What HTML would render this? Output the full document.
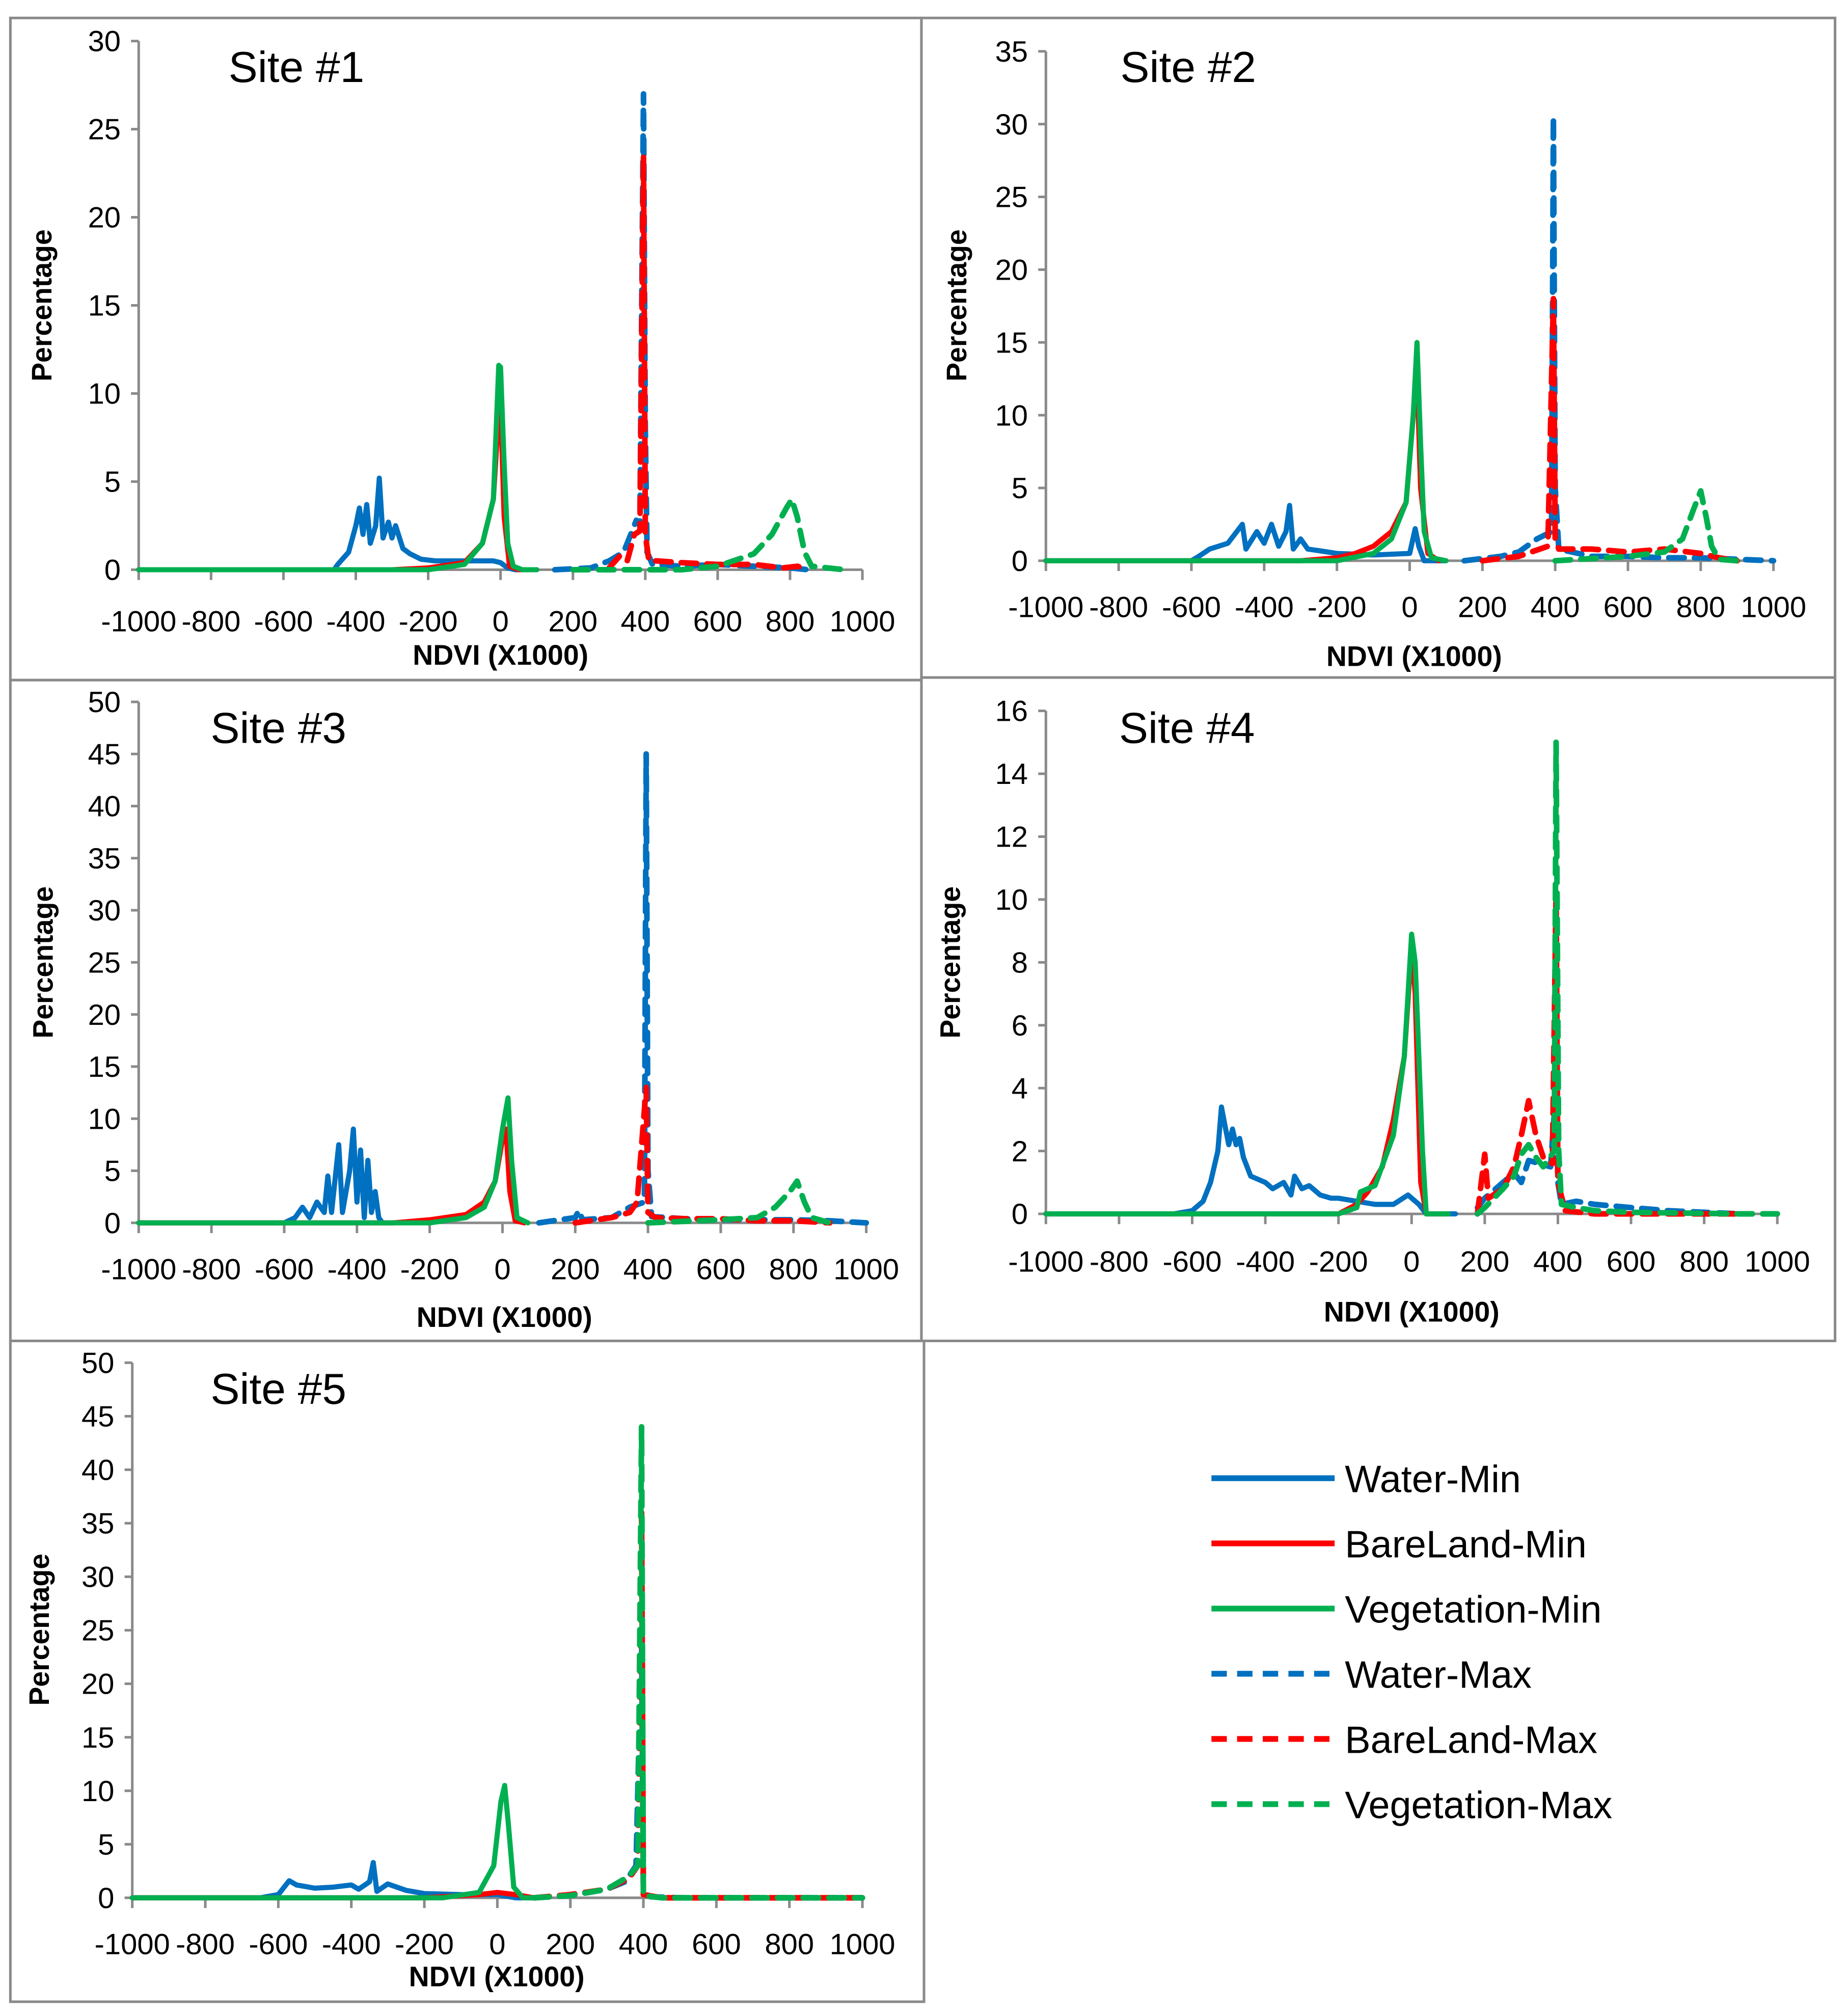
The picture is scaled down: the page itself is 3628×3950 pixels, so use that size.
<!DOCTYPE html>
<html><head><meta charset="utf-8">
<style>
html,body{margin:0;padding:0;background:#fff;}
svg{display:block;}
text{font-family:"Liberation Sans",sans-serif;}
</style></head>
<body>
<svg id="fig" width="3628" height="3950" viewBox="0 0 1440 1568" xmlns="http://www.w3.org/2000/svg">
<g id="frames" fill="none" stroke="#8a8a8a" stroke-width="2">
<rect x="8" y="14" width="710" height="516"/>
<rect x="718" y="14" width="712" height="514"/>
<rect x="8" y="530" width="710" height="515"/>
<rect x="718" y="528" width="712" height="517"/>
<rect x="8" y="1045" width="712" height="515"/>
</g>
<g id="legend"></g>
</svg>
<script>
const NS="http://www.w3.org/2000/svg";
const svg=document.getElementById('fig');
const seriesNames=["Water-Min","BareLand-Min","Vegetation-Min","Water-Max","BareLand-Max","Vegetation-Max"];
const seriesColors=["#0070c0","#ff0000","#00b050","#0070c0","#ff0000","#00b050"];
const seriesDashed=[false,false,false,true,true,true];
const xTicks=[-1000,-800,-600,-400,-200,0,200,400,600,800,1000];
const panelTitles=["Site #1","Site #2","Site #3","Site #4","Site #5"];
const yMaxes=[30,35,50,16,50];
const ySteps=[5,5,5,2,5];

// Site #1
const s1WaterMinX=[-1000,-460,-450,-420,-400,-390,-380,-370,-360,-345,-335,-325,-310,-300,-290,-270,-250,-220,-180,-100,-20,0,20,40,100];
const s1WaterMinY=[0,0,0.3,1,2.5,3.5,2,3.7,1.5,2.5,5.2,1.8,2.7,1.8,2.5,1.2,0.9,0.6,0.5,0.5,0.5,0.4,0.1,0,0];
const s1BareMinX=[-1000,-300,-200,-100,-50,-20,-5,0,10,25,50,100];
const s1BareMinY=[0,0,0.1,0.4,1.5,4,9,9.5,3,0.2,0,0];
const s1VegMinX=[-1000,-200,-100,-50,-20,-5,0,10,20,35,60,100];
const s1VegMinY=[0,0,0.3,1.5,4,11.6,11.5,6,1.5,0.2,0,0];
const s1WaterMaxX=[150,250,300,340,360,375,385,395,400,405,420,500,600,700,800,850];
const s1WaterMaxY=[0,0.1,0.5,1,2,2.8,2.5,27,8,1,0.3,0.2,0.3,0.2,0.1,0];
const s1BareMaxX=[300,330,350,370,385,395,400,410,430,500,600,700,780,820,850];
const s1BareMaxY=[0.1,0.8,0.5,2,2.2,23.5,2,0.5,0.5,0.4,0.3,0.3,0.1,0.2,0];
const s1VegMaxX=[200,400,500,600,700,750,790,805,820,840,860,950];
const s1VegMaxY=[0,0,0,0.2,0.9,2,3.5,4,3,1,0.2,0];

// Site #2
const s2WaterMinX=[-1000,-600,-580,-550,-500,-460,-450,-420,-400,-380,-360,-340,-330,-320,-300,-280,-250,-200,-100,0,15,25,40,100];
const s2WaterMinY=[0,0,0.3,0.8,1.2,2.5,0.8,2,1.2,2.5,1,2,3.8,0.8,1.5,0.8,0.7,0.5,0.4,0.5,2.2,1,0,0];
const s2BareMinX=[-1000,-300,-200,-150,-100,-50,-10,10,20,30,50,80];
const s2BareMinY=[0,0,0.2,0.5,1,2,4,10,13,5,0.5,0];
const s2VegMinX=[-1000,-200,-100,-50,-10,10,20,30,40,60,100];
const s2VegMinY=[0,0,0.5,1.5,4,10,15,8,2,0.2,0];
const s2WaterMaxX=[150,250,300,350,390,395,400,410,500,600,700,800,900,1000];
const s2WaterMaxY=[0,0.3,0.6,1.5,2,30.5,5,0.8,0.3,0.3,0.2,0.2,0.1,0];
const s2BareMaxX=[200,300,380,395,400,410,500,600,700,800,850,900];
const s2BareMaxY=[0,0.3,1,18,1.5,0.8,0.8,0.6,0.8,0.5,0.2,0];
const s2VegMaxX=[400,600,700,750,780,800,815,830,850,900];
const s2VegMaxY=[0,0.3,0.6,1.5,3.5,4.8,3,1,0.1,0];

// Site #3
const s3WaterMinX=[-1000,-600,-570,-550,-530,-510,-490,-480,-470,-450,-440,-420,-410,-400,-390,-380,-370,-360,-350,-340,-330];
const s3WaterMinY=[0,0,0.5,1.5,0.5,2,1,4.5,1,7.5,1,5,9,2,7,0.5,6,1,3,0.5,0];
const s3BareMinX=[-1000,-300,-200,-100,-50,-20,0,10,20,35,60];
const s3BareMinY=[0,0,0.3,0.8,2,4,8,9,3,0.2,0];
const s3VegMinX=[-1000,-200,-100,-50,-20,0,15,25,40,70];
const s3VegMinY=[0,0,0.5,1.5,4,9,12,6,0.5,0];
const s3WaterMaxX=[100,200,210,220,300,350,390,395,400,410,500,600,700,800,900,1000];
const s3WaterMaxY=[0,0.5,1.2,0.3,0.5,1.5,2,45,5,0.6,0.4,0.3,0.3,0.3,0.2,0];
const s3BareMaxX=[200,300,350,370,395,400,420,500,600,700,800,900];
const s3BareMaxY=[0,0.5,1,2,13,1,0.5,0.4,0.4,0.2,0.2,0];
const s3VegMaxX=[400,600,700,750,790,810,830,850,900];
const s3VegMaxY=[0,0.3,0.5,1.5,3,4,2,0.5,0];

// Site #4
const s4WaterMinX=[-1000,-650,-600,-570,-550,-530,-520,-510,-500,-490,-480,-470,-460,-440,-400,-380,-350,-330,-320,-300,-280,-250,-220,-200,-150,-100,-50,-10,20,40,120];
const s4WaterMinY=[0,0,0.1,0.4,1,2,3.4,2.8,2.2,2.7,2.2,2.4,1.8,1.2,1,0.8,1,0.6,1.2,0.8,0.9,0.6,0.5,0.5,0.4,0.3,0.3,0.6,0.3,0,0];
const s4BareMinX=[-1000,-200,-150,-120,-80,-50,-20,0,10,25,40,100];
const s4BareMinY=[0,0,0.3,0.7,1.5,3,5,8.5,7,1,0,0];
const s4VegMinX=[-1000,-200,-150,-140,-100,-50,-20,0,10,30,40,100];
const s4VegMinY=[0,0,0.2,0.7,0.9,2.5,5,8.9,8,2,0,0];
const s4WaterMaxX=[180,200,250,280,300,320,350,380,395,400,410,450,500,600,700,800,900];
const s4WaterMaxY=[0.2,0.5,1,1.3,1,1.7,1.6,1.5,4,1,0.3,0.4,0.3,0.2,0.1,0.05,0];
const s4BareMaxX=[180,200,210,250,280,300,320,340,360,385,395,400,420,500,900];
const s4BareMaxY=[0,1.9,0.5,0.8,1.5,2.5,3.6,2.5,1.8,1.6,10.2,1,0.1,0,0];
const s4VegMaxX=[180,200,250,280,300,320,340,360,390,395,402,410,450,500,600,900,1000];
const s4VegMaxY=[0,0.2,0.8,1.2,1.9,2.2,1.8,1.5,2,15,2,0.3,0.2,0.1,0.05,0,0];

// Site #5
const s5WaterMinX=[-1000,-650,-600,-570,-550,-500,-450,-400,-380,-350,-340,-330,-300,-250,-200,-100,0,50,100];
const s5WaterMinY=[0,0,0.3,1.6,1.2,0.9,1,1.2,0.8,1.5,3.3,0.6,1.3,0.7,0.4,0.3,0.3,0,0];
const s5BareMinX=[-1000,-200,-50,0,50,100];
const s5BareMinY=[0,0,0.3,0.5,0.3,0];
const s5VegMinX=[-1000,-150,-50,-10,10,20,30,45,70,100];
const s5VegMinY=[0,0,0.5,3,9,10.5,7,1,0,0];
const s5WaterMaxX=[100,200,300,350,380,395,400,420,500,1000];
const s5WaterMaxY=[0,0.2,0.8,1.5,3,25,0.5,0.1,0,0];
const s5BareMaxX=[100,200,300,360,385,395,400,450,1000];
const s5BareMaxY=[0,0.3,0.8,1.8,3,36,0.3,0,0];
const s5VegMaxX=[100,200,300,360,385,395,400,450,1000];
const s5VegMaxY=[0,0.2,0.8,2,3,44,0.2,0,0];

const panelData=[
 [[s1WaterMinX,s1WaterMinY],[s1BareMinX,s1BareMinY],[s1VegMinX,s1VegMinY],[s1WaterMaxX,s1WaterMaxY],[s1BareMaxX,s1BareMaxY],[s1VegMaxX,s1VegMaxY]],
 [[s2WaterMinX,s2WaterMinY],[s2BareMinX,s2BareMinY],[s2VegMinX,s2VegMinY],[s2WaterMaxX,s2WaterMaxY],[s2BareMaxX,s2BareMaxY],[s2VegMaxX,s2VegMaxY]],
 [[s3WaterMinX,s3WaterMinY],[s3BareMinX,s3BareMinY],[s3VegMinX,s3VegMinY],[s3WaterMaxX,s3WaterMaxY],[s3BareMaxX,s3BareMaxY],[s3VegMaxX,s3VegMaxY]],
 [[s4WaterMinX,s4WaterMinY],[s4BareMinX,s4BareMinY],[s4VegMinX,s4VegMinY],[s4WaterMaxX,s4WaterMaxY],[s4BareMaxX,s4BareMaxY],[s4VegMaxX,s4VegMaxY]],
 [[s5WaterMinX,s5WaterMinY],[s5BareMinX,s5BareMinY],[s5VegMinX,s5VegMinY],[s5WaterMaxX,s5WaterMaxY],[s5BareMaxX,s5BareMaxY],[s5VegMaxX,s5VegMaxY]]
];

const layout=[
 {x0:108,x1:672,yTop:32,yBot:444,tickY:483,titleX:178,titleY:52,pctX:32,pctY:238,ndviX:390,ndviY:510},
 {x0:815,x1:1382,yTop:40,yBot:437,tickY:472,titleX:873,titleY:52,pctX:745,pctY:238,ndviX:1102,ndviY:511},
 {x0:108,x1:675,yTop:547,yBot:953,tickY:988,titleX:164,titleY:567,pctX:33,pctY:750,ndviX:393,ndviY:1026},
 {x0:815,x1:1385,yTop:554,yBot:946,tickY:982,titleX:872,titleY:567,pctX:740,pctY:750,ndviX:1100,ndviY:1022},
 {x0:103,x1:672,yTop:1062,yBot:1479,tickY:1514,titleX:164,titleY:1082,pctX:30,pctY:1270,ndviX:387,ndviY:1540}
];

function mk(tag,attrs,parent){const e=document.createElementNS(NS,tag);for(const k in attrs)e.setAttribute(k,attrs[k]);parent.appendChild(e);return e;}

layout.forEach((L,pi)=>{
 const g=mk('g',{},svg);
 
 
 const ymax=yMaxes[pi], ystep=ySteps[pi];
 const sx=v=>L.x0+(v+1000)/2000*(L.x1-L.x0);
 const sy=v=>L.yBot-v/ymax*(L.yBot-L.yTop);
 const ya=mk('line',{x1:L.x0,y1:L.yTop,x2:L.x0,y2:L.yBot,stroke:'#8a8a8a','stroke-width':2},g);
 
 
 const xa=mk('line',{x1:L.x0,y1:L.yBot,x2:L.x1,y2:L.yBot,stroke:'#8a8a8a','stroke-width':2},g);
 
 
 for(let v=0;v<=ymax+1e-9;v+=ystep){
  const y=sy(v);
  mk('line',{x1:L.x0-6,y1:y,x2:L.x0,y2:y,stroke:'#8a8a8a','stroke-width':2},g);
  const t=mk('text',{x:L.x0-14,y:y+8,'text-anchor':'end','font-size':23,fill:'#000'},g);
  t.textContent=String(v);
  
  
 }
 xTicks.forEach(v=>{
  const x=sx(v);
  mk('line',{x1:x,y1:L.yBot,x2:x,y2:L.yBot+8,stroke:'#8a8a8a','stroke-width':2},g);
  const t=mk('text',{x:x,y:L.tickY+9,'text-anchor':'middle','font-size':23,fill:'#000'},g);
  t.textContent=String(v);
  
  
 });
 panelData[pi].forEach((d,si)=>{
  const xs=d[0], ys=d[1];
  const pts=xs.map((x,i)=>sx(x).toFixed(1)+','+sy(ys[i]).toFixed(1)).join(' ');
  const attrs={points:pts,fill:'none',stroke:seriesColors[si],'stroke-width':seriesDashed[si]?4.4:4,'stroke-linejoin':'round','stroke-linecap':'round'};
  if(seriesDashed[si])attrs['stroke-dasharray']='12 8';
  const p=mk('polyline',attrs,g);
  
  
 });
 const tt=mk('text',{x:L.titleX,y:L.titleY+12,'font-size':34,fill:'#000'},g);
 tt.textContent=panelTitles[pi];
 
 
 const pt=mk('text',{x:L.pctX,y:L.pctY,'font-size':22,'font-weight':'bold','text-anchor':'middle',fill:'#000',transform:'rotate(-90 '+L.pctX+' '+L.pctY+')',dy:8},g);
 pt.textContent='Percentage';
 
 
 const nt=mk('text',{x:L.ndviX,y:L.ndviY+8,'font-size':22,'font-weight':'bold','text-anchor':'middle',fill:'#000'},g);
 nt.textContent='NDVI (X1000)';
 
 
});

const lg=document.getElementById('legend');
seriesNames.forEach((n,i)=>{
 const y=1152+i*50.8;
 const gi=mk('g',{},lg);
 
 
 const a={x1:944,y1:y,x2:1040,y2:y,stroke:seriesColors[i],'stroke-width':4.5};
 if(seriesDashed[i])a['stroke-dasharray']='12 8';
 mk('line',a,gi);
 const t=mk('text',{x:1048,y:y+11,'font-size':30,fill:'#000'},gi);
 t.textContent=n;
});
</script>
</body></html>
